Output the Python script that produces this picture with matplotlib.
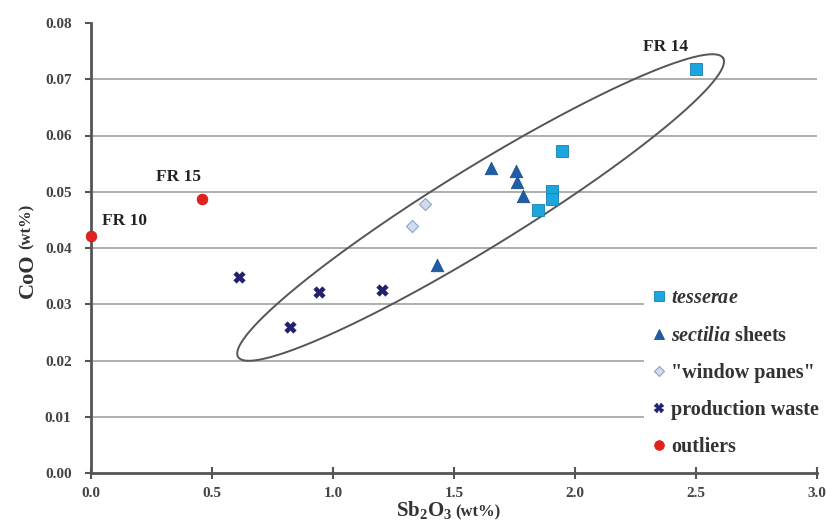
import numpy as np
import matplotlib
matplotlib.use("Agg")
import matplotlib.pyplot as plt
from matplotlib.lines import Line2D

plt.rcParams['font.family'] = ['Liberation Serif', 'DejaVu Serif']
plt.rcParams['mathtext.fontset'] = 'custom'
plt.rcParams['mathtext.rm'] = 'Liberation Serif:bold'
plt.rcParams['mathtext.it'] = 'Liberation Serif:italic:bold'
plt.rcParams['mathtext.bf'] = 'Liberation Serif:bold'

# Sb2O3 (wt%) vs CoO (wt%)
tess_x = [2.50, 1.946, 1.905, 1.905, 1.847]
tess_y = [0.0718, 0.0572, 0.0501, 0.0488, 0.0467]

sect_x = [1.651, 1.756, 1.762, 1.787, 1.431]
sect_y = [0.0543, 0.0537, 0.0517, 0.0493, 0.0369]

pane_x = [1.380, 1.325]
pane_y = [0.0478, 0.0439]

waste_x = [0.613, 0.943, 1.202, 0.822]
waste_y = [0.0348, 0.0322, 0.0326, 0.0260]

out_x = [0.0, 0.46]
out_y = [0.0421, 0.0487]

labels = ["FR 10", "FR 15", "FR 14"]
label_x = [0.14, 0.36, 2.376]
label_y = [0.0448, 0.0526, 0.0758]

# ellipse around the main group: centre and two conjugate half-axes (data units)
ell_c = (1.61, 0.0472)
ell_u = (1.002, 0.02657)
ell_v = (0.0868, -0.00604)

x_ticks = [0.0, 0.5, 1.0, 1.5, 2.0, 2.5, 3.0]
y_ticks = [0.00, 0.01, 0.02, 0.03, 0.04, 0.05, 0.06, 0.07, 0.08]

W, H = 826, 525
fig = plt.figure(figsize=(W / 100, H / 100), dpi=100)
ax = fig.add_axes([91 / W, 52 / H, 726 / W, 450 / H])
ax.set_xlim(0, 3.0)
ax.set_ylim(0, 0.08)

for v in y_ticks[1:-1]:
    ax.axhline(v, color='#a8a8a8', lw=1.3, zorder=0)

t = np.linspace(0, 2 * np.pi, 400)
ex = ell_c[0] + ell_u[0] * np.cos(t) + ell_v[0] * np.sin(t)
ey = ell_c[1] + ell_u[1] * np.cos(t) + ell_v[1] * np.sin(t)
ax.plot(ex, ey, color='#555555', lw=1.4, zorder=2)

ax.scatter(tess_x, tess_y, marker='s', s=75, c='#1ba6dd', edgecolors='#1a7fb0', linewidths=0.6, zorder=4)
ax.scatter(sect_x, sect_y, marker='^', s=80, c='#1f5ea6', edgecolors='#1a4f90', linewidths=0.6, zorder=4)
ax.scatter(pane_x, pane_y, marker='D', s=38, c='#d3dced', edgecolors='#8ea3c8', linewidths=0.8, zorder=4)
ax.scatter(waste_x, waste_y, marker='X', s=70, c='#22216e', edgecolors='#22216e', linewidths=0.3, zorder=4)
ax.scatter(out_x, out_y, marker='o', s=60, c='#e3211c', edgecolors='#c81a16', linewidths=0.5, zorder=5, clip_on=False)

for lab, lx, ly in zip(labels, label_x, label_y):
    ax.text(lx, ly, lab, fontsize=12.5, fontweight='bold', color='#222222', ha='center', va='center')

ax.set_xticks(x_ticks)
ax.set_xticklabels([f"{v:.1f}" for v in x_ticks])
ax.set_yticks(y_ticks)
ax.set_yticklabels([f"{v:.2f}" for v in y_ticks])
ax.tick_params(axis='x', direction='inout', length=8, width=1.5, color='#555555', pad=6)
ax.tick_params(axis='y', direction='out', length=4, width=1.5, color='#555555', pad=10)
for lab in ax.get_xticklabels() + ax.get_yticklabels():
    lab.set_fontsize(11)
    lab.set_fontweight('bold')
    lab.set_color('#444444')

for side in ['top', 'right']:
    ax.spines[side].set_visible(False)
for side in ['left', 'bottom']:
    ax.spines[side].set_color('#555555')
    ax.spines[side].set_linewidth(2)

# axis titles with small "(wt%)"
renderer = fig.canvas.get_renderer()
xl = fig.text(396 / W, 1 - 516 / H, "Sb$_{2}$O$_{3}$", fontsize=15, fontweight='bold',
              color='#333333', ha='left', va='baseline')
bb = xl.get_window_extent(renderer)
fig.text((bb.x1 + 3) / W, 1 - 516 / H, "(wt%)", fontsize=12, fontweight='bold',
         color='#333333', ha='left', va='baseline')

yl = fig.text(33 / W, 1 - 298 / H, "CoO", fontsize=16, fontweight='bold', color='#333333',
              rotation=90, rotation_mode='anchor', ha='left', va='baseline')
bb = yl.get_window_extent(renderer)
fig.text(31 / W, (bb.y1 + 4) / H, "(wt%)", fontsize=12, fontweight='bold', color='#333333',
         rotation=90, rotation_mode='anchor', ha='left', va='baseline')

handles = [
    Line2D([], [], ls='', marker='s', ms=7, mfc='#1ba6dd', mec='#1a7fb0', mew=0.6),
    Line2D([], [], ls='', marker='^', ms=7, mfc='#1f5ea6', mec='#1a4f90', mew=0.6),
    Line2D([], [], ls='', marker='D', ms=5, mfc='#d3dced', mec='#8ea3c8', mew=0.8),
    Line2D([], [], ls='', marker='X', ms=7, mfc='#22216e', mec='#22216e', mew=0.3),
    Line2D([], [], ls='', marker='o', ms=7, mfc='#e3211c', mec='#c81a16', mew=0.5),
]
names = [r"$\mathit{tesserae}$", r"$\mathit{sectilia}$ sheets", "\"window panes\"",
         "production waste", "outliers"]
leg = ax.legend(handles, names, loc='lower left', bbox_to_anchor=(644 / W, 62 / H),
                bbox_transform=fig.transFigure, frameon=True,
                facecolor='white', edgecolor='none', framealpha=1,
                handletextpad=0.15, handlelength=0.9, labelspacing=0.85, borderpad=0.3,
                borderaxespad=0, prop={'weight': 'bold', 'size': 14.5})
for txt in leg.get_texts():
    txt.set_color('#333333')
leg.set_zorder(6)

fig.savefig("out.png", dpi=100)
